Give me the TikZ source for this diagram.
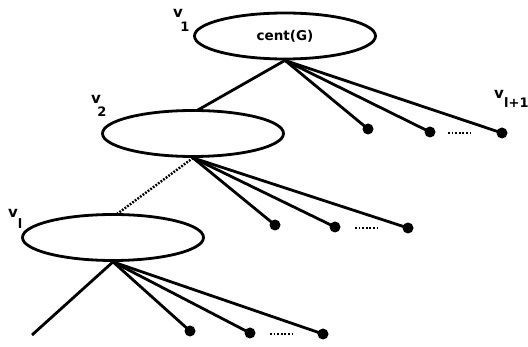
\documentclass[tikz,border=0pt]{standalone}
\usepackage{fontspec}
\setmainfont{DejaVu Sans}
\usetikzlibrary{shapes.geometric}
\tikzset{
  blob/.style={ellipse, draw, line width=2.8pt, inner sep=0pt, minimum width=181pt, minimum height=46pt, font=\bfseries\fontsize{13.5}{13.5}\selectfont},
  leaf/.style={circle, fill, inner sep=0pt, minimum size=11pt},
  edge/.style={line width=2.8pt},
  dotedge/.style={line width=2.4pt, dash pattern=on 1.8pt off 1.4pt},
  more/.style={line width=2.4pt, dash pattern=on 1.8pt off 1.8pt},
  lab/.style={inner sep=0pt, font=\bfseries\fontsize{15}{15}\selectfont},
  sublab/.style={inner sep=0pt, font=\bfseries\fontsize{13}{13}\selectfont}
}
\begin{document}
\begin{tikzpicture}[x=1pt,y=-1pt]
\useasboundingbox (0,0) rectangle (528,347);
% ellipses
\node[blob] (e1) at (285,36) {cent(G)};
\node[blob] (e2) at (193,133.5) {};
\node[blob] (e3) at (113,237.5) {};
% labels
\node[lab] (v1) at (178,13) {v};
\node[sublab] (s1) at (185,27) {1};
\node[lab] (v2) at (96,99) {v};
\node[sublab] (s2) at (102,112) {2};
\node[lab] (v3) at (13,213) {v};
\node[sublab] (s3) at (20,224) {l};
\node[lab] (v4) at (499,94) {v};
\node[sublab, anchor=west] (s4) at (504,103) {l+1};
% leaves level 1
\node[leaf] (a1) at (368,129) {};
\node[leaf] (a2) at (430,132) {};
\node[leaf] (a3) at (502,133) {};
% leaves level 2
\node[leaf] (b1) at (275,225) {};
\node[leaf] (b2) at (335,227) {};
\node[leaf] (b3) at (408,228) {};
% leaves level 3
\node[leaf] (c1) at (190,331) {};
\node[leaf] (c2) at (250,333) {};
\node[leaf] (c3) at (323,334) {};
\coordinate (c0) at (32,335);
% ellipsis markers
\coordinate (m1a) at (448,133); \coordinate (m1b) at (473,133);
\coordinate (m2a) at (355,228); \coordinate (m2b) at (378,228);
\coordinate (m3a) at (270,334); \coordinate (m3b) at (294,334);
\draw[more] (m1a) -- (m1b);
\draw[more] (m2a) -- (m2b);
\draw[more] (m3a) -- (m3b);
% edges
\draw[edge] (e1.south) -- (197,110.5);
\draw[edge] (e1.south) -- (a1.center);
\draw[edge] (e1.south) -- (a2.center);
\draw[edge] (e1.south) -- (a3.center);
\draw[dotedge] (e2.south) -- (117,214);
\draw[edge] (e2.south) -- (b1.center);
\draw[edge] (e2.south) -- (b2.center);
\draw[edge] (e2.south) -- (b3.center);
\draw[edge] (e3.south) -- (c0);
\draw[edge] (e3.south) -- (c1.center);
\draw[edge] (e3.south) -- (c2.center);
\draw[edge] (e3.south) -- (c3.center);
\end{tikzpicture}
\end{document}
